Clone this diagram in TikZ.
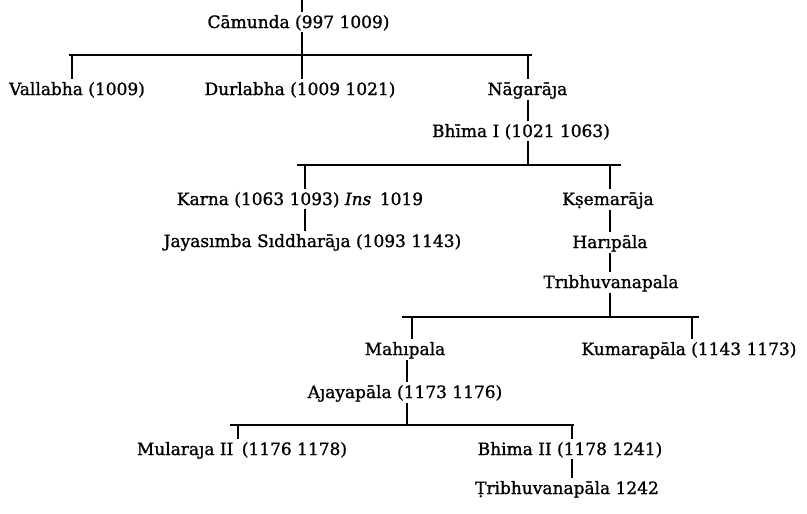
\documentclass[tikz,border=0pt]{standalone}
\usepackage{fontspec}
\setmainfont{DejaVu Serif}[BoldFont={DejaVu Serif}, BoldFeatures={FakeBold=1.2},
  BoldItalicFont={DejaVu Serif Italic}, BoldItalicFeatures={FakeBold=1.2}]

\begin{document}
\begin{tikzpicture}[x=1pt, y=-1pt,
  king/.style={anchor=base, inner sep=1.5pt, font=\fontsize{17}{20}\selectfont\bfseries},
  link/.style={line width=1.1pt, shorten >=1.5pt}
]
\useasboundingbox (0,0) rectangle (807,514);

% rulers
\node[king] (Camunda)    at (298.5,28) {Cāmunda (997 1009)};
\node[king] (Vallabha)   at (77,95)    {Vallabha (1009)};
\node[king] (Durlabha)   at (300,95)   {Durlabha (1009 1021)};
\node[king] (Nagaraja)   at (527.5,95) {Nāgarāȷa};
\node[king] (BhimaI)     at (521,137)  {Bhīma I (1021 1063)};
\node[king] (Karna)      at (300,205)  {Karna (1063 1093) \textit{Ins}\enspace 1019};
\node[king] (Jayasimha)  at (312.5,247) {Jayasımba Sıddharāȷa (1093 1143)};
\node[king] (Ksemaraja)  at (608,205)  {Kṣemarāja};
\node[king] (Haripala)   at (610,248)  {Harıpāla};
\node[king] (Tribhuvana) at (611,288)  {Trıbhuvanapala};
\node[king] (Mahipala)   at (405,355)  {Mahıpala};
\node[king] (Kumarapala) at (689,355)  {Kumarapāla (1143 1173)};
\node[king] (Ajayapala)  at (405,398)  {Aȷayapāla (1173 1176)};
\node[king] (Mularaja)   at (242,455)  {Mularaȷa II\enspace(1176 1178)};
\node[king] (BhimaII)    at (570,455)  {Bhima II (1178 1241)};
\node[king] (TribhuvanaII) at (567,494) {Ṭribhuvanapāla 1242};

% bars and junctions
\coordinate (top)  at (302,0);
\coordinate (b1w)  at (69,55);   \coordinate (b1e)  at (533,55);
\coordinate (jVal) at (72,55);   \coordinate (jDur) at (302,55);  \coordinate (jNag) at (528,55);
\coordinate (b2w)  at (297,165); \coordinate (b2e)  at (622,165);
\coordinate (jBhi) at (528,165); \coordinate (jKar) at (305,165); \coordinate (jKse) at (610,165);
\coordinate (b3w)  at (402,317); \coordinate (b3e)  at (700,317);
\coordinate (jTri) at (610,317); \coordinate (jMah) at (412,317); \coordinate (jKum) at (692,317);
\coordinate (b4w)  at (230,425); \coordinate (b4e)  at (575,425);
\coordinate (jAja) at (407,425); \coordinate (jMul) at (238,425); \coordinate (jBh2) at (572,425);

\draw[link] (top) -- (top |- Camunda.north);
\draw[link] (b1w) -- (b1e);
\draw[link] (Camunda.south -| jDur) -- (jDur);
\draw[link] (jVal) -- (jVal |- Vallabha.north);
\draw[link] (jDur) -- (jDur |- Durlabha.north);
\draw[link] (jNag) -- (jNag |- Nagaraja.north);
\draw[link] (Nagaraja.south -| jNag) -- (jNag |- BhimaI.north);

\draw[link] (b2w) -- (b2e);
\draw[link] (BhimaI.south -| jBhi) -- (jBhi);
\draw[link] (jKar) -- (jKar |- Karna.north);
\draw[link] (Karna.south -| jKar) -- (jKar |- Jayasimha.north);
\draw[link] (jKse) -- (jKse |- Ksemaraja.north);
\draw[link] (Ksemaraja.south -| jKse) -- (jKse |- Haripala.north);
\draw[link] (Haripala.south -| jKse) -- (jKse |- Tribhuvana.north);

\draw[link] (b3w) -- (b3e);
\draw[link] (Tribhuvana.south -| jTri) -- (jTri);
\draw[link] (jMah) -- (jMah |- Mahipala.north);
\draw[link] (jKum) -- (jKum |- Kumarapala.north);
\draw[link] (Mahipala.south -| jAja) -- (jAja |- Ajayapala.north);

\draw[link] (b4w) -- (b4e);
\draw[link] (Ajayapala.south -| jAja) -- (jAja);
\draw[link] (jMul) -- (jMul |- Mularaja.north);
\draw[link] (jBh2) -- (jBh2 |- BhimaII.north);
\draw[link] (BhimaII.south -| jBh2) -- (jBh2 |- TribhuvanaII.north);
\end{tikzpicture}
\end{document}
